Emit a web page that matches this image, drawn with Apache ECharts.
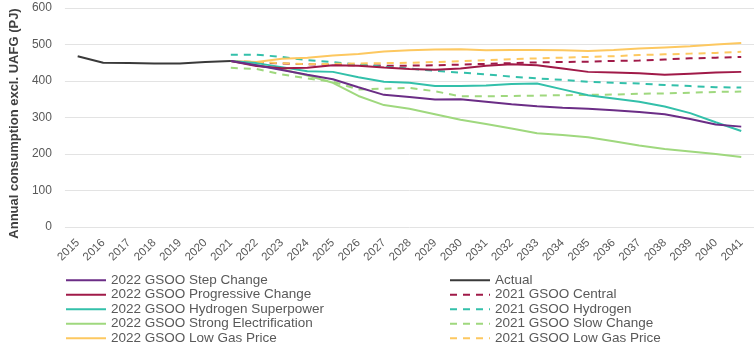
<!DOCTYPE html>
<html><head><meta charset="utf-8">
<script src="https://cdn.jsdelivr.net/npm/echarts@6/dist/echarts.min.js"></script>
<style>html,body{margin:0;padding:0;background:#fff}#c{width:754px;height:346px}</style>
</head><body><div id="c"></div>
<script>
var years = ['2015','2016','2017','2018','2019','2020','2021','2022','2023','2024','2025','2026','2027','2028','2029','2030','2031','2032','2033','2034','2035','2036','2037','2038','2039','2040','2041'];
var yTicks = [0, 100, 200, 300, 400, 500, 600];
var actual = [468, 450, 449, 448, 448, 452, 455];
// forecasts 2021..2041
var stepChange   = [455, 443, 430, 417, 405, 383, 362, 356, 349, 350, 343, 336, 331, 327, 324, 320, 315, 309, 296, 281, 275];
var progressive  = [455, 441, 435, 436, 443, 442, 437, 433, 431, 434, 442, 446, 443, 434, 425, 423, 421, 417, 420, 423, 425];
var hydrogenSP   = [455, 449, 438, 427, 425, 410, 398, 395, 386, 386, 388, 392, 393, 377, 361, 352, 343, 330, 312, 287, 263];
var strongElec   = [455, 444, 432, 415, 395, 359, 334, 324, 309, 294, 282, 270, 257, 252, 246, 235, 223, 214, 207, 200, 192];
var lowGas22     = [455, 452, 461, 464, 470, 474, 481, 484, 486, 487, 484, 485, 485, 484, 482, 485, 489, 492, 495, 500, 504];
var central21    = [455, 451, 448, 446, 444, 443, 442, 442, 443, 445, 447, 449, 451, 452, 453, 455, 456, 459, 462, 464, 466];
var hydrogen21   = [472, 472, 466, 457, 452, 445, 439, 434, 428, 423, 418, 412, 407, 403, 398, 395, 393, 389, 386, 383, 382];
var slowChange21 = [436, 433, 418, 407, 398, 377, 379, 381, 372, 358, 358, 359, 360, 361, 362, 363, 365, 366, 368, 370, 371];
var lowGas21     = [455, 452, 449, 446, 447, 448, 449, 450, 452, 454, 457, 460, 462, 464, 466, 468, 471, 473, 475, 477, 480];

function pad(arr){ var out = []; for (var i = 0; i < 6; i++) out.push(null); return out.concat(arr); }

var C = {purple:'#6b2d86', crimson:'#a01a48', teal:'#33c0aa', green:'#9fd87e', yellow:'#fdc860', dark:'#3a3a3a'};

function line(name, data, color, dashed, z){
  return {name:name, type:'line', data:data, symbol:'none', smooth:false, z:z||2,
    lineStyle:{color:color, width:2, type: dashed ? [7,6] : 'solid'},
    itemStyle:{color:color}, connectNulls:false, animation:false};
}

var chart = echarts.init(document.getElementById('c'), null, {renderer:'canvas'});
var legendText = {color:'#595959', fontSize:13.5, fontFamily:'Liberation Sans, Arial, sans-serif', lineHeight:14.5};
var legendCommon = {orient:'vertical', top:273, padding:0, height:80, itemWidth:40, itemHeight:3, itemGap:0,
  textStyle:legendText, itemStyle:{opacity:0}};
chart.setOption({
  animation:false,
  backgroundColor:'#fff',
  grid:{left:61, right:-9, top:8, bottom:119, containLabel:false},
  legend:[
    Object.assign({}, legendCommon, {left:65,
      data:['2022 GSOO Step Change','2022 GSOO Progressive Change','2022 GSOO Hydrogen Superpower','2022 GSOO Strong Electrification','2022 GSOO Low Gas Price']}),
    Object.assign({}, legendCommon, {left:449,
      data:['Actual','2021 GSOO Central','2021 GSOO Hydrogen','2021 GSOO Slow Change','2021 GSOO Low Gas Price']})
  ],
  xAxis:{type:'category', data:years, boundaryGap:true,
    axisLine:{show:false}, axisTick:{show:false},
    axisLabel:{rotate:45, color:'#595959', fontSize:11.5, fontFamily:'Liberation Sans, Arial, sans-serif', margin:14, interval:0}},
  yAxis:{type:'value', min:0, max:600, interval:100,
    name:'Annual consumption excl. UAFG (PJ)', nameLocation:'middle', nameGap:42,
    nameTextStyle:{color:'#404040', fontSize:13, fontWeight:'bold', fontFamily:'Liberation Sans, Arial, sans-serif', padding:[0,12,0,0]},
    axisLine:{show:false}, axisTick:{show:false},
    axisLabel:{color:'#595959', fontSize:12, fontFamily:'Liberation Sans, Arial, sans-serif', margin:13,
      formatter:function(v){ return yTicks.indexOf(v) >= 0 ? String(v) : ''; }},
    splitLine:{lineStyle:{color:'#e3e3e3', width:1}}},
  series:[
    line('Actual', actual, C.dark, false, 5),
    line('2021 GSOO Central', pad(central21), C.crimson, true),
    line('2021 GSOO Hydrogen', pad(hydrogen21), C.teal, true),
    line('2021 GSOO Slow Change', pad(slowChange21), C.green, true),
    line('2021 GSOO Low Gas Price', pad(lowGas21), C.yellow, true),
    line('2022 GSOO Strong Electrification', pad(strongElec), C.green, false, 3),
    line('2022 GSOO Low Gas Price', pad(lowGas22), C.yellow, false, 3),
    line('2022 GSOO Hydrogen Superpower', pad(hydrogenSP), C.teal, false, 3),
    line('2022 GSOO Progressive Change', pad(progressive), C.crimson, false, 3),
    line('2022 GSOO Step Change', pad(stepChange), C.purple, false, 4)
  ]
});
</script></body></html>
